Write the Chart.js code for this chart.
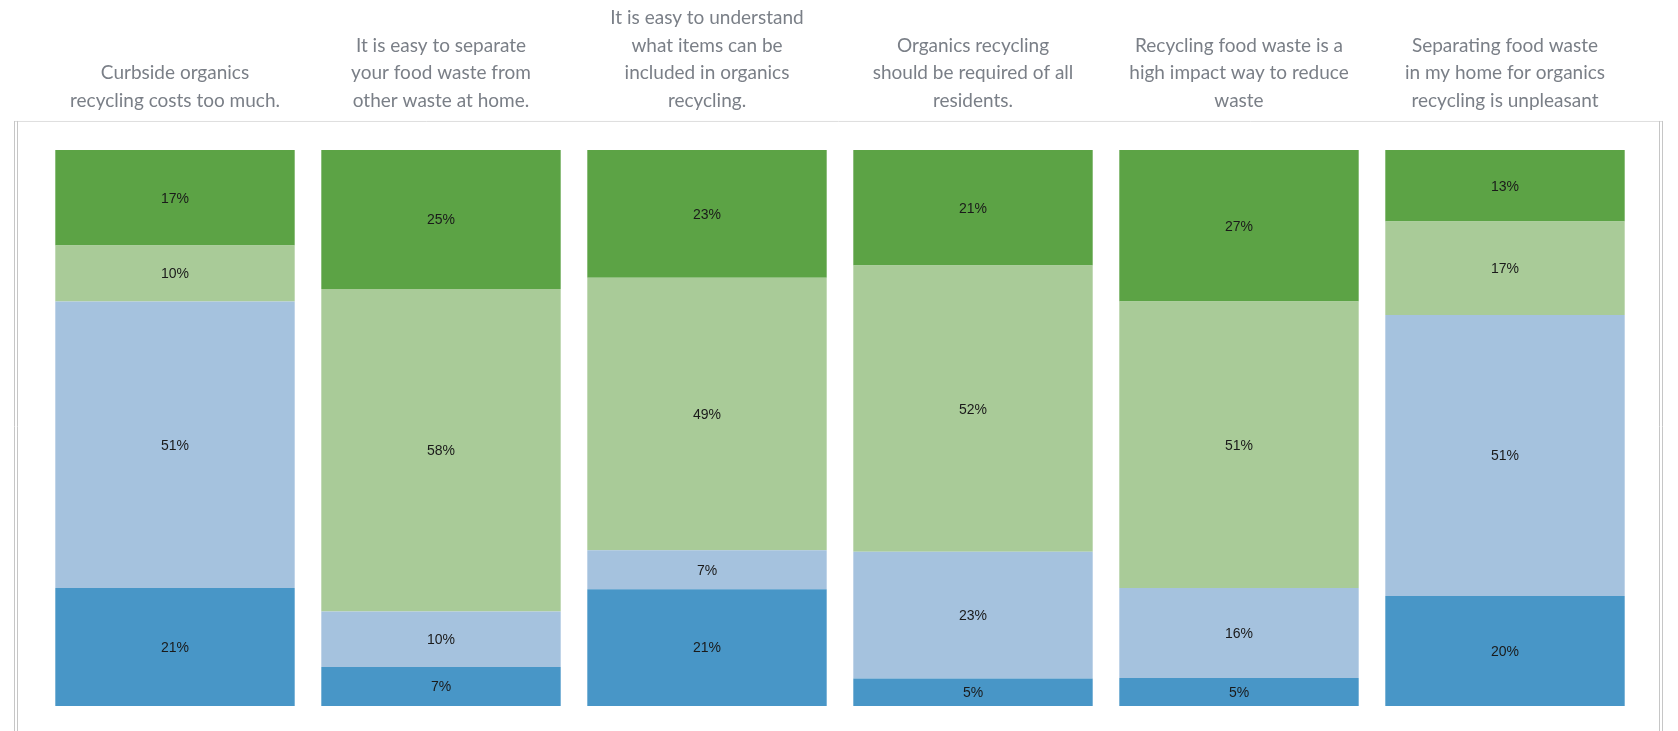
<!DOCTYPE html>
<html>
<head>
<meta charset="utf-8">
<script src="https://cdn.jsdelivr.net/npm/chart.js@4/dist/chart.umd.min.js"></script>
<style>
  html, body { margin: 0; padding: 0; background: #fff; }
  #wrap { width: 1678px; height: 731px; }
</style>
</head>
<body>
<div id="wrap"><canvas id="grafico"></canvas></div>
<script>
const statements = [
    ['Curbside organics', 'recycling costs too much.'],
    ['It is easy to separate', 'your food waste from', 'other waste at home.'],
    ['It is easy to understand', 'what items can be', 'included in organics', 'recycling.'],
    ['Organics recycling', 'should be required of all', 'residents.'],
    ['Recycling food waste is a', 'high impact way to reduce', 'waste'],
    ['Separating food waste', 'in my home for organics', 'recycling is unpleasant']
]

// percentages per answer, bottom of the stack first
const stronglyDisagree = [21, 7, 21, 5, 5, 20]
const disagree = [51, 10, 7, 23, 16, 51]
const agree = [10, 58, 49, 52, 51, 17]
const stronglyAgree = [17, 25, 23, 21, 27, 13]

const answers = [stronglyDisagree, disagree, agree, stronglyAgree]
const totals = statements.map((s, i) => answers.reduce((sum, a) => sum + a[i], 0))

// each bar is stretched to the full height
function share(values) {
    return values.map((v, i) => v / totals[i] * 100)
}

function serie(label, values, color) {
    return {
        label,
        data: share(values),
        raw: values,
        backgroundColor: color,
        borderWidth: 0,
        categoryPercentage: 0.9,
        barPercentage: 1
    }
}

const data = {
    labels: statements,
    datasets: [
        serie('Strongly disagree', stronglyDisagree, '#4896c7'),
        serie('Disagree', disagree, '#a5c2de'),
        serie('Agree', agree, '#a9cb98'),
        serie('Strongly agree', stronglyAgree, '#5ca345')
    ]
}

const tickSize = 19
const tickLine = 1.46
const tickGap = 35

// percent text in the middle of every segment
const rotulos = {
    id: 'rotulos',
    afterDatasetsDraw(chart) {
        const ctx = chart.ctx
        ctx.save()
        ctx.font = '14px "Liberation Sans", Arial, sans-serif'
        ctx.fillStyle = '#1a1a1a'
        ctx.textAlign = 'center'
        ctx.textBaseline = 'middle'
        chart.data.datasets.forEach((ds, d) => {
            chart.getDatasetMeta(d).data.forEach((bar, i) => {
                const y = (bar.y + bar.base) / 2
                ctx.fillText(ds.raw[i] + '%', bar.x, y + 1)
            })
        })
        ctx.restore()
    }
}

// light frame around the plot area
const moldura = {
    id: 'moldura',
    beforeDraw(chart) {
        const { ctx, chartArea } = chart
        const left = chartArea.left - 28
        const right = chartArea.right + 25
        const top = chartArea.top - 29
        const bottom = chart.height + 5
        ctx.save()
        ctx.lineWidth = 1
        ctx.strokeStyle = '#dedede'
        ctx.beginPath()
        ctx.moveTo(left, top + 0.5)
        ctx.lineTo(right, top + 0.5)
        ctx.stroke()
        ctx.strokeStyle = '#c6c6c6'
        ;[left + 0.5, left + 3.5, right - 3.5, right - 0.5].forEach(x => {
            ctx.beginPath()
            ctx.moveTo(x, top)
            ctx.lineTo(x, bottom)
            ctx.stroke()
        })
        ctx.restore()
    }
}

const config = {
    type: 'bar',
    data,
    options: {
        responsive: true,
        maintainAspectRatio: false,
        animation: false,
        layout: {
            padding: { top: 4, left: 42, right: 40, bottom: 25 }
        },
        scales: {
            x: {
                stacked: true,
                position: 'top',
                grid: { display: false, drawTicks: false },
                border: { display: false },
                ticks: {
                    padding: tickGap,
                    color: '#7a7f87',
                    maxRotation: 0,
                    autoSkip: false,
                    font: { family: 'Lato, "Open Sans", sans-serif', size: tickSize, lineHeight: tickLine }
                },
                afterFit(scale) {
                    // four lines of text plus the gap above the bars
                    scale.height = tickGap + 4 * tickSize * tickLine
                }
            },
            y: {
                stacked: true,
                display: false,
                min: 0,
                max: 100
            }
        },
        plugins: {
            legend: { display: false },
            title: { display: false },
            tooltip: { enabled: false }
        }
    },
    plugins: [moldura, rotulos]
}

const grafico = new Chart(document.getElementById('grafico'), config)
</script>
</body>
</html>
